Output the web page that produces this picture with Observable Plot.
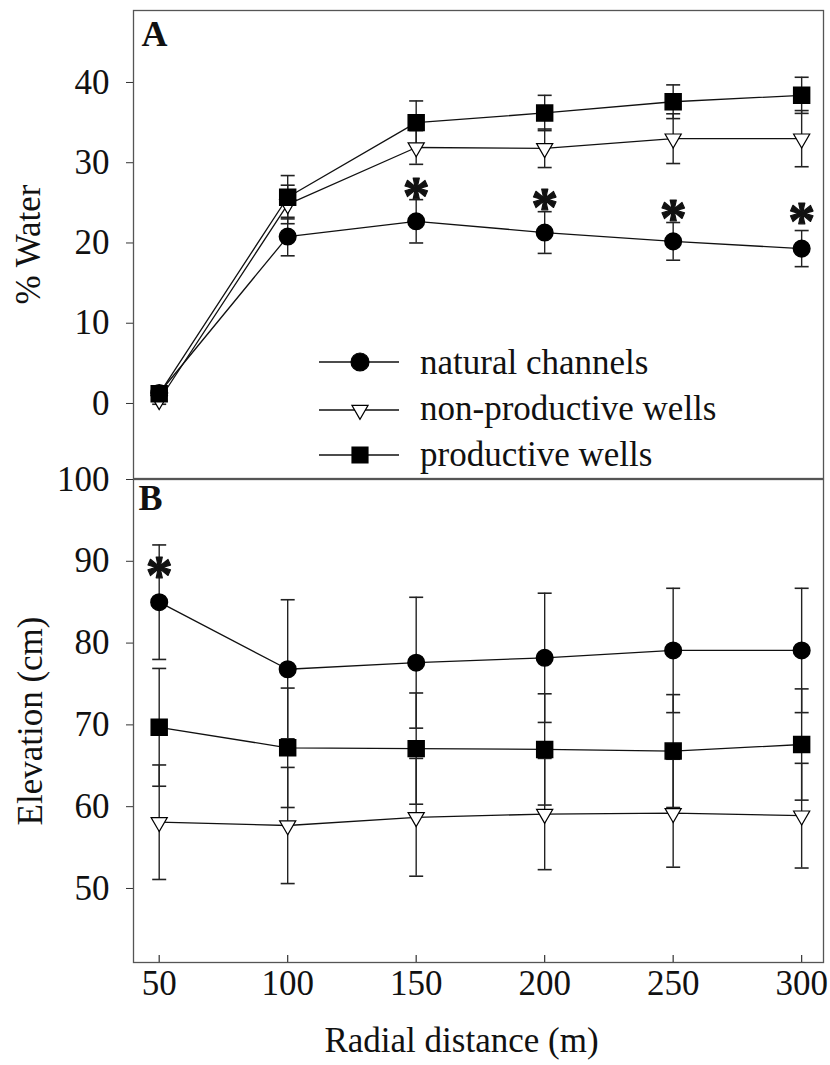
<!DOCTYPE html>
<html><head><meta charset="utf-8">
<script src="https://cdn.jsdelivr.net/npm/d3@7"></script>
<script src="https://cdn.jsdelivr.net/npm/@observablehq/plot@0.6"></script>
<style>
html,body{margin:0;padding:0;background:#fff;}
#wrap{position:relative;width:830px;height:1065px;font-family:"Liberation Serif",serif;background:#fff;}
#wrap svg{position:absolute;left:0;overflow:visible;}
</style></head><body><div id="wrap"></div>
<script>
// ---- data ----
const distances = [50, 100, 150, 200, 250, 300];
const seriesNames = ["natural channels", "non-productive wells", "productive wells"];
// Panel A: % Water (mean, SE)
const waterNatural   = [1.3, 20.8, 22.7, 21.3, 20.2, 19.3];
const waterNaturalSE = [0.5, 2.4, 2.7, 2.6, 2.35, 2.25];
const waterNonProd   = [0.4, 24.8, 31.9, 31.8, 33.0, 33.0];
const waterNonProdSE = [0.5, 2.4, 2.1, 2.4, 3.1, 3.5];
const waterProd      = [1.2, 25.7, 35.0, 36.2, 37.6, 38.4];
const waterProdSE    = [0.5, 2.7, 2.7, 2.2, 2.1, 2.25];
const waterStars     = [null, null, 26.9, 25.5, 24.2, 23.8];
// Panel B: Elevation (cm) (mean, SE)
const elevNatural    = [85.0, 76.8, 77.6, 78.2, 79.1, 79.1];
const elevNaturalSE  = [7.0, 8.5, 8.0, 7.9, 7.6, 7.6];
const elevNonProd    = [58.1, 57.7, 58.7, 59.1, 59.2, 58.9];
const elevNonProdSE  = [7.0, 7.1, 7.2, 6.8, 6.6, 6.4];
const elevProd       = [69.7, 67.2, 67.1, 67.0, 66.8, 67.6];
const elevProdSE     = [7.2, 7.3, 6.8, 6.8, 6.9, 6.8];
const elevStars      = [89.3, null, null, null, null, null];
const xTicks = [50, 100, 150, 200, 250, 300];
const waterTicks = [0, 10, 20, 30, 40];
const elevTicks = [50, 60, 70, 80, 90, 100];
const xDomain = [40, 308.5];
const waterDomain = [-9.35, 48.97];
const elevDomain = [40.95, 100];

// ---- helpers ----
function rowsFor(values, ses, name) {
  return distances.map((x, i) => ({x, y: values[i], se: ses[i], series: name}));
}
function starRows(stars) {
  return distances.map((x, i) => ({x, y: stars[i]})).filter(d => d.y != null);
}
const capSymbol = {draw(ctx, size) { const r = Math.sqrt(size / Math.PI); ctx.moveTo(-r, 0); ctx.lineTo(r, 0); }};
const FONT = "Liberation Serif";

function panelMarks(nat, non, prod, stars) {
  const all = [...nat, ...non, ...prod];
  return [
    Plot.frame({stroke: "#555", strokeWidth: 1.3}),
    Plot.ruleX(all, {x: "x", y1: d => d.y - d.se, y2: d => d.y + d.se, stroke: "#222", strokeWidth: 1.4}),
    Plot.dot(all, {x: "x", y: d => d.y + d.se, symbol: capSymbol, r: 7, fill: "none", stroke: "#222", strokeWidth: 1.6}),
    Plot.dot(all, {x: "x", y: d => d.y - d.se, symbol: capSymbol, r: 7, fill: "none", stroke: "#222", strokeWidth: 1.6}),
    Plot.line(all, {x: "x", y: "y", z: "series", stroke: "#111", strokeWidth: 1.3}),
    Plot.dot(nat, {x: "x", y: "y", symbol: "circle", r: 8.3, fill: "black", stroke: "black"}),
    Plot.dot(non, {x: "x", y: "y", symbol: "triangle", rotate: 180, r: 6, fill: "white", stroke: "black", strokeWidth: 1.2}),
    Plot.dot(prod, {x: "x", y: "y", symbol: "square", r: 9, fill: "black", stroke: "black"}),
    Plot.text(starRows(stars), {x: "x", y: "y", text: () => "*", fontSize: 54, fontWeight: "bold", fill: "#111", stroke: "#111", strokeWidth: 1.2, dy: 9, fontFamily: FONT})
  ];
}

const wrap = document.getElementById("wrap");

// ---- Panel A ----
const natA = rowsFor(waterNatural, waterNaturalSE, seriesNames[0]);
const nonA = rowsFor(waterNonProd, waterNonProdSE, seriesNames[1]);
const prodA = rowsFor(waterProd, waterProdSE, seriesNames[2]);
const plotA = Plot.plot({
  width: 830, height: 479,
  marginTop: 10, marginBottom: 1, marginLeft: 133, marginRight: 7,
  style: {fontFamily: FONT, fontSize: "35px", background: "transparent", overflow: "visible", color: "#111"},
  x: {domain: xDomain, axis: null},
  y: {domain: waterDomain},
  marks: [
    ...panelMarks(natA, nonA, prodA, waterStars),
    Plot.axisY({ticks: waterTicks, tickSize: 7, tickPadding: 17, label: null, stroke: "#333"}),
    Plot.text(["% Water"], {frameAnchor: "left", dx: -105, rotate: -90, textAnchor: "middle", lineAnchor: "middle", fontSize: 35, fontFamily: FONT, fill: "#111"}),
    Plot.text(["A"], {frameAnchor: "top-left", dx: 8, dy: 10, textAnchor: "start", lineAnchor: "top", fontSize: 36, fontWeight: "bold", fontFamily: FONT, fill: "#111"})
  ]
});
plotA.style.top = "0px";
wrap.appendChild(plotA);

// ---- Panel B ----
const natB = rowsFor(elevNatural, elevNaturalSE, seriesNames[0]);
const nonB = rowsFor(elevNonProd, elevNonProdSE, seriesNames[1]);
const prodB = rowsFor(elevProd, elevProdSE, seriesNames[2]);
const plotB = Plot.plot({
  width: 830, height: 606,
  marginTop: 20, marginBottom: 103, marginLeft: 133, marginRight: 7,
  style: {fontFamily: FONT, fontSize: "35px", background: "transparent", overflow: "visible", color: "#111"},
  x: {domain: xDomain},
  y: {domain: elevDomain},
  marks: [
    ...panelMarks(natB, nonB, prodB, elevStars),
    Plot.tickX(xTicks, {x: d => d, insetTop: 476, stroke: "#333", strokeWidth: 1.2}),
    Plot.axisX({ticks: xTicks, tickSize: 0, tickPadding: 8, label: null}),
    Plot.axisY({ticks: elevTicks, tickSize: 7, tickPadding: 17, label: null, stroke: "#333"}),
    Plot.text(["Elevation (cm)"], {frameAnchor: "left", dx: -103, rotate: -90, textAnchor: "middle", lineAnchor: "middle", fontSize: 35, fontFamily: FONT, fill: "#111"}),
    Plot.text(["Radial distance (m)"], {frameAnchor: "bottom", dx: -17, dy: 78, textAnchor: "middle", lineAnchor: "middle", fontSize: 35, fontFamily: FONT, fill: "#111"}),
    Plot.text(["B"], {frameAnchor: "top-left", dx: 5, dy: 5, textAnchor: "start", lineAnchor: "top", fontSize: 36, fontWeight: "bold", fontFamily: FONT, fill: "#111"})
  ]
});
plotB.style.top = "459px";
wrap.appendChild(plotB);

// ---- Legend (inside panel A) ----
const legendRows = [
  {name: seriesNames[0], symbol: d3.symbolCircle, r: 9, fill: "black", cy: 362, base: 374},
  {name: seriesNames[1], symbol: d3.symbolTriangle, r: 6, fill: "white", rotate: 180, cy: 410, base: 420},
  {name: seriesNames[2], symbol: d3.symbolSquare, r: 9, fill: "black", cy: 455, base: 466}
];
const leg = d3.select(wrap).append("svg").attr("width", 830).attr("height", 479).style("top", "0px");
const g = leg.selectAll("g").data(legendRows).join("g");
g.append("line").attr("x1", 319).attr("x2", 399).attr("y1", d => d.cy).attr("y2", d => d.cy).attr("stroke", "#111").attr("stroke-width", 1.3);
g.append("path")
  .attr("d", d => d3.symbol().type(d.symbol).size(d.r * d.r * Math.PI)())
  .attr("transform", d => `translate(360,${d.cy}) rotate(${d.rotate || 0})`)
  .attr("fill", d => d.fill).attr("stroke", "black").attr("stroke-width", 1.2);
g.append("text").attr("x", 420).attr("y", d => d.base).text(d => d.name)
  .attr("font-family", FONT).attr("font-size", 35).attr("fill", "#111");
</script></body></html>
